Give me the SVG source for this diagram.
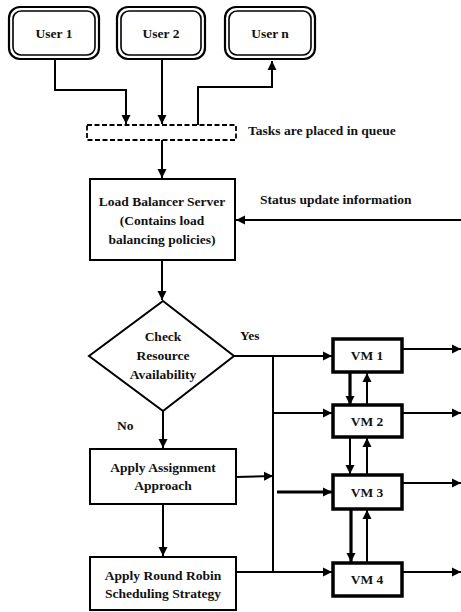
<svg xmlns="http://www.w3.org/2000/svg" width="461" height="612" viewBox="0 0 461 612">
<style>
text{font-family:"Liberation Serif","Times New Roman",serif;font-weight:bold;font-size:13.5px;fill:#111;text-anchor:middle}
.lbl{text-anchor:start}
.ln{fill:none;stroke:#000;stroke-width:2}
.thk{fill:none;stroke:#000;stroke-width:3.2}
.box{fill:#fff;stroke:#000;stroke-width:2}
.vm{fill:#fff;stroke:#000;stroke-width:3.5}
.uo{fill:#fff;stroke:#000;stroke-width:2.2}
.ui{fill:none;stroke:#000;stroke-width:1.6}
</style>
<defs>
<marker id="ah" viewBox="0 0 10 10" refX="10" refY="5" markerWidth="9" markerHeight="10" markerUnits="userSpaceOnUse" orient="auto"><path d="M0,0 L10,5 L0,10 z" fill="#000"/></marker>
</defs>
<rect width="461" height="612" fill="#fff"/>
<g id="connectors">
<path class="ln" d="M55,59 V90 H126 V124" marker-end="url(#ah)"/>
<path class="ln" d="M162,59 V124" marker-end="url(#ah)"/>
<path class="ln" d="M198,125 V87 H272 V61" marker-end="url(#ah)"/>
<path class="ln" d="M162,140 V178" marker-end="url(#ah)"/>
<path class="ln" d="M461,220 H236" marker-end="url(#ah)"/>
<path class="ln" d="M162,260 V300" marker-end="url(#ah)"/>
<path class="ln" d="M234,356 H332" marker-end="url(#ah)"/>
<path class="ln" d="M273,356 V572"/>
<path class="ln" d="M273,413 H332" marker-end="url(#ah)"/>
<path class="ln" d="M236,477 L273,476" marker-end="url(#ah)"/>
<path class="thk" d="M277,492 H332" marker-end="url(#ah)"/>
<path class="ln" d="M236,572 H332" marker-end="url(#ah)"/>
<path class="ln" d="M163,411 V448" marker-end="url(#ah)"/>
<path class="ln" d="M163,504 V556" marker-end="url(#ah)"/>
<path class="ln" d="M402,349 H461" marker-end="url(#ah)"/>
<path class="ln" d="M402,413 H461" marker-end="url(#ah)"/>
<path class="ln" d="M402,483 H461" marker-end="url(#ah)"/>
<path class="ln" d="M402,572 H461" marker-end="url(#ah)"/>
<path class="thk" d="M350,373 V405" marker-end="url(#ah)"/>
<path class="ln" d="M367,405 V373" marker-end="url(#ah)"/>
<path class="ln" d="M350,438 V474" marker-end="url(#ah)"/>
<path class="ln" d="M367,474 V438" marker-end="url(#ah)"/>
<path class="thk" d="M351,510 V562" marker-end="url(#ah)"/>
<path class="ln" d="M367,562 V510" marker-end="url(#ah)"/>
</g>
<g id="user1"><rect class="uo" x="9" y="7" width="90" height="52" rx="11"/><rect class="ui" x="13" y="11" width="82" height="44" rx="8"/><text x="54" y="38">User 1</text></g>
<g id="user2"><rect class="uo" x="117" y="7" width="88" height="52" rx="11"/><rect class="ui" x="121" y="11" width="80" height="44" rx="8"/><text x="161" y="38">User 2</text></g>
<g id="usern"><rect class="uo" x="225" y="7" width="90" height="52" rx="11"/><rect class="ui" x="229" y="11" width="82" height="44" rx="8"/><text x="270" y="38">User n</text></g>
<g id="queue"><rect x="87" y="125" width="149" height="15" fill="none" stroke="#000" stroke-width="1.8" stroke-dasharray="5,2.5"/></g>
<text class="lbl" x="248" y="135">Tasks are placed in queue</text>
<g id="lb"><rect class="box" x="90" y="179" width="145" height="81"/><text x="162" y="206">Load Balancer Server</text><text x="162" y="225">(Contains load</text><text x="162" y="244">balancing policies)</text></g>
<text class="lbl" x="260" y="204">Status update information</text>
<g id="check"><polygon class="box" points="163,301 234,356 163,411 89,356"/><text x="163" y="341">Check</text><text x="163" y="360">Resource</text><text x="163" y="379">Availability</text></g>
<text class="lbl" x="240" y="340">Yes</text>
<text class="lbl" x="117" y="430">No</text>
<g id="assign"><rect class="box" x="90" y="449" width="146" height="55"/><text x="163" y="472">Apply Assignment</text><text x="163" y="490">Approach</text></g>
<g id="rr"><rect class="box" x="90" y="557" width="146" height="53"/><text x="163" y="580">Apply Round Robin</text><text x="163" y="598">Scheduling Strategy</text></g>
<g id="vm1"><rect class="vm" x="333" y="339" width="69" height="33"/><text x="367" y="360">VM 1</text></g>
<g id="vm2"><rect class="vm" x="333" y="405" width="69" height="32"/><text x="367" y="426">VM 2</text></g>
<g id="vm3"><rect class="vm" x="333" y="475" width="69" height="34"/><text x="367" y="497">VM 3</text></g>
<g id="vm4"><rect class="vm" x="333" y="563" width="69" height="33"/><text x="367" y="584">VM 4</text></g>
</svg>
